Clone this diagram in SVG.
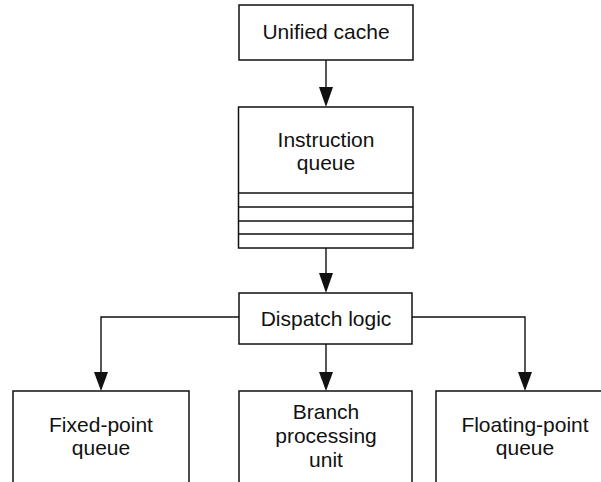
<svg xmlns="http://www.w3.org/2000/svg" width="601" height="482" viewBox="0 0 601 482">
  <style>
    .box { fill: #fff; stroke: #111; stroke-width: 1.5; }
    .row { stroke: #111; stroke-width: 1.5; fill: none; }
    .wire { stroke: #111; stroke-width: 1.4; fill: none; }
    .head { fill: #111; stroke: none; }
    text { font-family: "Liberation Sans", Arial, Helvetica, sans-serif; font-size: 21px; fill: #111; text-anchor: middle; }
  </style>
  <rect width="601" height="482" fill="#fff"/>

  <!-- connectors -->
  <g id="connectors">
    <line class="wire" x1="326" y1="60" x2="326" y2="90"/>
    <polygon class="head" points="319,87 333,87 326,107"/>
    <line class="wire" x1="326" y1="193" x2="326" y2="276"/>
    <polygon class="head" points="319,273 333,273 326,293"/>
    <line class="wire" x1="326" y1="344" x2="326" y2="375"/>
    <polygon class="head" points="319,372 333,372 326,391"/>
    <polyline class="wire" points="239,317 101,317 101,375"/>
    <polygon class="head" points="94,372 108,372 101,391"/>
    <polyline class="wire" points="412,317 525,317 525,375"/>
    <polygon class="head" points="518,372 532,372 525,391"/>
  </g>

  <g id="unified-cache">
    <rect class="box" x="239" y="5" width="174" height="55"/>
    <text x="326" y="39">Unified cache</text>
  </g>

  <g id="instruction-queue">
    <rect class="box" x="238.5" y="107" width="174.5" height="141"/>
    <line class="row" x1="238.5" y1="193" x2="413" y2="193"/>
    <line class="row" x1="238.5" y1="207" x2="413" y2="207"/>
    <line class="row" x1="238.5" y1="221" x2="413" y2="221"/>
    <line class="row" x1="238.5" y1="234" x2="413" y2="234"/>
    <text x="326" y="147">Instruction</text>
    <text x="326" y="170">queue</text>
  </g>

  <g id="dispatch-logic">
    <rect class="box" x="239" y="293" width="173" height="51"/>
    <text x="326" y="326">Dispatch logic</text>
  </g>

  <g id="fixed-point-queue">
    <rect class="box" x="13" y="391" width="176" height="100"/>
    <text x="101" y="432">Fixed-point</text>
    <text x="101" y="455">queue</text>
  </g>

  <g id="branch-processing-unit">
    <rect class="box" x="239" y="391" width="173" height="100"/>
    <text x="326" y="419">Branch</text>
    <text x="326" y="443">processing</text>
    <text x="326" y="467">unit</text>
  </g>

  <g id="floating-point-queue">
    <rect class="box" x="436" y="391" width="178" height="100"/>
    <text x="525" y="432">Floating-point</text>
    <text x="525" y="455">queue</text>
  </g>
</svg>
